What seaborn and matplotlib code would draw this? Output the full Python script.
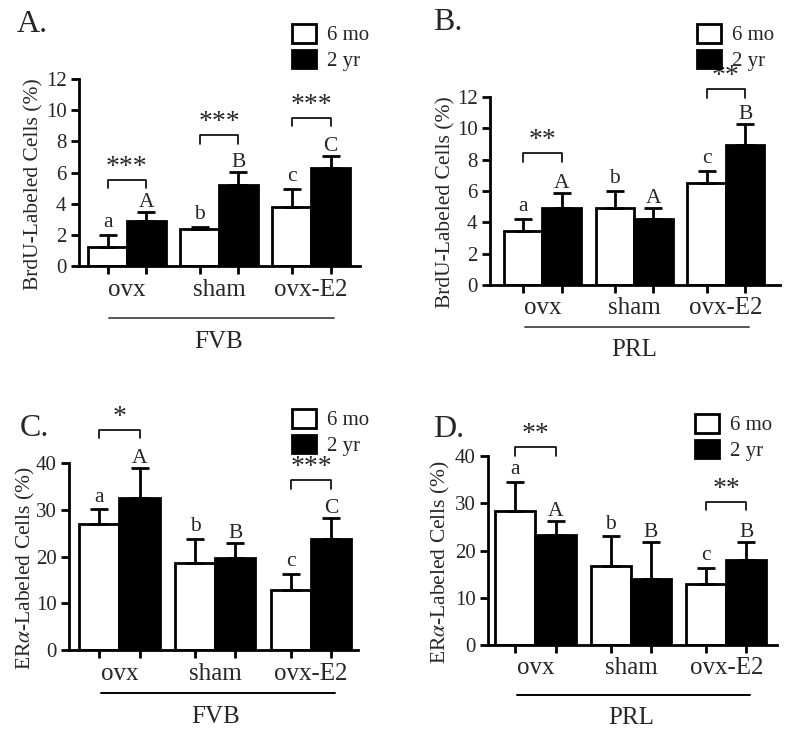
import numpy as np
import pandas as pd
import matplotlib
matplotlib.use("Agg")
import matplotlib.pyplot as plt
import matplotlib.transforms as mtransforms
import seaborn as sns

sns.set_theme(style="ticks")
plt.rcParams['font.family'] = ['Liberation Serif', 'DejaVu Serif']
plt.rcParams['mathtext.fontset'] = 'stix'

# ---- data ----
groups = ['ovx', 'sham', 'ovx-E2']
ages = ['6 mo', '2 yr']

# A: BrdU, FVB
a_mean_6mo = [1.2, 2.35, 3.8]
a_sem_6mo = [0.8, 0.15, 1.15]
a_mean_2yr = [2.9, 5.2, 6.3]
a_sem_2yr = [0.55, 0.85, 0.75]
a_lower = ['a', 'b', 'c']
a_upper = ['A', 'B', 'C']
a_sig_groups = [0, 1, 2]
a_sig_y = [5.55, 8.4, 9.5]
a_sig_text = ['***', '***', '***']

# B: BrdU, PRL
b_mean_6mo = [3.45, 4.93, 6.5]
b_sem_6mo = [0.75, 1.07, 0.76]
b_mean_2yr = [4.93, 4.2, 8.96]
b_sem_2yr = [0.97, 0.7, 1.34]
b_lower = ['a', 'b', 'c']
b_upper = ['A', 'A', 'B']
b_sig_groups = [0, 2]
b_sig_y = [8.4, 12.5]
b_sig_text = ['**', '**']

# C: ERa, FVB
c_mean_6mo = [27.0, 18.6, 12.8]
c_sem_6mo = [3.1, 5.2, 3.4]
c_mean_2yr = [32.5, 19.6, 23.8]
c_sem_2yr = [6.4, 3.3, 4.5]
c_lower = ['a', 'b', 'c']
c_upper = ['A', 'B', 'C']
c_sig_groups = [0, 2]
c_sig_y = [47.1, 36.3]
c_sig_text = ['*', '***']

# D: ERa, PRL
d_mean_6mo = [28.3, 16.8, 13.0]
d_sem_6mo = [6.2, 6.2, 3.3]
d_mean_2yr = [23.2, 13.9, 18.0]
d_sem_2yr = [3.1, 7.8, 3.8]
d_lower = ['a', 'b', 'c']
d_upper = ['A', 'B', 'B']
d_sig_groups = [0, 2]
d_sig_y = [41.8, 30.3]
d_sig_text = ['**', '**']

brdu_label = 'BrdU-Labeled Cells (%)'
era_label = r'ER$\alpha$-Labeled Cells (%)'


def draw_panel(fig, rect, letter, letter_xy, m6, s6, m2, s2, lower, upper,
               sig_groups, sig_y, sig_text, ylim, ystep, ylabel, ylab_x,
               strain, xlim, line_y, strain_y, line_color, leg_xy):
    ax = fig.add_axes(rect)
    df = pd.DataFrame({
        'group': groups * 2,
        'age': [ages[0]] * 3 + [ages[1]] * 3,
        'value': list(m6) + list(m2),
    })
    sns.barplot(data=df, x='group', y='value', hue='age', order=groups,
                hue_order=ages, palette={'6 mo': 'white', '2 yr': 'black'},
                edgecolor='black', linewidth=2, width=0.84, gap=0,
                errorbar=None, ax=ax)

    # bar centres from the drawn patches
    bars = ax.patches[:6]
    xs = np.array([p.get_x() + p.get_width() / 2 for p in bars])
    x6, x2 = xs[:3], xs[3:]
    ax.errorbar(x6, m6, yerr=[np.zeros(3), s6], fmt='none', ecolor='black',
                elinewidth=2, capsize=6.5, capthick=2, zorder=1)
    ax.errorbar(x2, m2, yerr=[np.zeros(3), s2], fmt='none', ecolor='black',
                elinewidth=2, capsize=6.5, capthick=2, zorder=1)

    for i in range(3):
        ax.annotate(lower[i], (x6[i], m6[i] + s6[i]), xytext=(0, 2),
                    textcoords='offset points', ha='center', va='bottom',
                    fontsize=15.5)
        ax.annotate(upper[i], (x2[i], m2[i] + s2[i]), xytext=(0, 0),
                    textcoords='offset points', ha='center', va='bottom',
                    fontsize=15.5)

    tick_h = (ylim[1] - ylim[0]) * 0.045
    for g, yv, t in zip(sig_groups, sig_y, sig_text):
        ax.plot([x6[g], x6[g], x2[g], x2[g]], [yv - tick_h, yv, yv, yv - tick_h],
                color='black', lw=1.2, clip_on=False)
        ax.text((x6[g] + x2[g]) / 2, yv, t, ha='center', va='bottom',
                fontsize=20, clip_on=False)

    ax.set_ylim(*ylim)
    ax.set_yticks(np.arange(ylim[0], ylim[1] + 0.01, ystep))
    ax.set_xlim(*xlim)
    ax.set_xticks(xs)
    ax.set_xticklabels([])
    ax.set_xticks([0, 1, 2], minor=True)
    ax.set_xticklabels(groups, minor=True, fontsize=18)
    ax.tick_params(axis='x', which='minor', length=0, pad=9)
    ax.tick_params(axis='both', which='major', length=6, width=2,
                   labelsize=15, color='black')
    ax.tick_params(axis='y', pad=3)
    for s in ['top', 'right']:
        ax.spines[s].set_visible(False)
    for s in ['left', 'bottom']:
        ax.spines[s].set_linewidth(2)
        ax.spines[s].set_color('black')
    ax.set_xlabel('')
    ax.set_ylabel(ylabel, fontsize=15.5)
    ax.yaxis.set_label_coords(ylab_x, 0.44)

    trans = mtransforms.blended_transform_factory(ax.transData, ax.transAxes)
    ax.plot([-0.19, 2.25], [line_y, line_y], color=line_color, lw=1.4,
            transform=trans, clip_on=False)
    ax.text(1.0, strain_y, strain, transform=trans, ha='center', va='center',
            fontsize=18)

    handles, labels = ax.get_legend_handles_labels()
    ax.legend(handles, labels, loc='upper left', bbox_to_anchor=leg_xy,
              bbox_transform=fig.transFigure, frameon=False, fontsize=15,
              handlelength=1.15, handleheight=1.0, labelspacing=0.2,
              handletextpad=0.55, borderpad=0, borderaxespad=0)

    fig.text(letter_xy[0], letter_xy[1], letter, fontsize=23,
             ha='left', va='center')
    return ax


fig = plt.figure(figsize=(8, 7.4), dpi=100)
W, H = 800.0, 740.0

draw_panel(fig, [79 / W, 1 - 266 / H, 281 / W, 187 / H], 'A.', (17 / W, 1 - 25 / H),
           a_mean_6mo, a_sem_6mo, a_mean_2yr, a_sem_2yr, a_lower, a_upper,
           a_sig_groups, a_sig_y, a_sig_text, (0, 12), 2, brdu_label, -0.125,
           'FVB', (-0.52, 2.53), -0.278, -0.406, '#555555', (292 / W, 1 - 24 / H))

draw_panel(fig, [490 / W, 1 - 285 / H, 290 / W, 188 / H], 'B.', (433 / W, 1 - 23 / H),
           b_mean_6mo, b_sem_6mo, b_mean_2yr, b_sem_2yr, b_lower, b_upper,
           b_sig_groups, b_sig_y, b_sig_text, (0, 12), 2, brdu_label, -0.12,
           'PRL', (-0.57, 2.59), -0.223, -0.346, '#555555', (697 / W, 1 - 24 / H))

draw_panel(fig, [69 / W, 1 - 650 / H, 289 / W, 187 / H], 'C.', (20 / W, 1 - 428 / H),
           c_mean_6mo, c_sem_6mo, c_mean_2yr, c_sem_2yr, c_lower, c_upper,
           c_sig_groups, c_sig_y, c_sig_text, (0, 40), 10, era_label, -0.11,
           'FVB', (-0.526, 2.49), -0.23, -0.358, 'black', (292 / W, 1 - 409 / H))

draw_panel(fig, [488 / W, 1 - 645 / H, 289 / W, 189 / H], 'D.', (433 / W, 1 - 430 / H),
           d_mean_6mo, d_sem_6mo, d_mean_2yr, d_sem_2yr, d_lower, d_upper,
           d_sig_groups, d_sig_y, d_sig_text, (0, 40), 10, era_label, -0.125,
           'PRL', (-0.497, 2.53), -0.265, -0.386, 'black', (695 / W, 1 - 414 / H))

fig.savefig('out.png', dpi=100, facecolor='white')
